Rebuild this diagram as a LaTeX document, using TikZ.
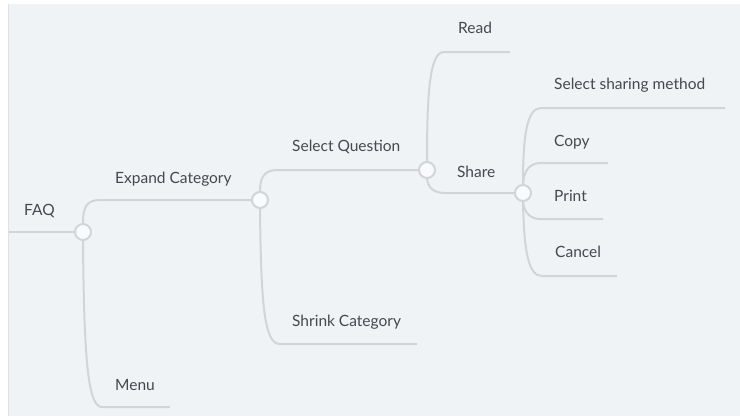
\documentclass[tikz,border=0pt]{standalone}
\usepackage{fontspec}
\setmainfont{Lato}
\begin{document}
\begin{tikzpicture}[x=1pt,y=-1pt,
  conn/.style={draw=linegray,line width=2pt},
  hub/.style={circle,draw=linegray,line width=2pt,fill=hubfill,minimum size=16pt,inner sep=0pt},
  lbl/.style={anchor=west,text=txtgray,font=\fontsize{15.5}{17}\selectfont,inner sep=0pt}]
\definecolor{linegray}{HTML}{D2D5D8}
\definecolor{hubfill}{HTML}{F8FAFB}
\definecolor{txtgray}{HTML}{46484C}
\definecolor{bggray}{HTML}{EFF3F6}
\useasboundingbox (0,0) rectangle (740,416);
\fill[white] (0,0) rectangle (740,416);
\fill[bggray] (8,4) rectangle (740,416);
\draw[linegray!70,line width=0.8pt] (8,4) -- (8,416);
% hubs
\node[hub] (c1) at (83,232) {};
\node[hub] (c2) at (260,200) {};
\node[hub] (c3) at (427,170) {};
\node[hub] (c4) at (523,193) {};
% coordinates
\coordinate (root) at (9,232);
\coordinate (e1) at (100,200);
\coordinate (m1) at (102,407);
\coordinate (m2) at (170,407);
\coordinate (q1) at (277,170);
\coordinate (s1) at (280,344);
\coordinate (s2) at (417,344);
\coordinate (r1) at (444,52);
\coordinate (r2) at (510,52);
\coordinate (h1) at (445,193);
\coordinate (a1) at (541,108);
\coordinate (a2) at (725,108);
\coordinate (p1) at (541,163);
\coordinate (p2) at (608,163);
\coordinate (t1) at (540,219);
\coordinate (t2) at (603,219);
\coordinate (k1) at (542,276);
\coordinate (k2) at (617,276);
% labels
\node[lbl] (faq) at (24,211) {FAQ};
\node[lbl] (expand) at (115,179) {Expand Category};
\node[lbl] (menu) at (115,385) {Menu};
\node[lbl] (select) at (292,147) {Select Question};
\node[lbl] (shrink) at (292,322) {Shrink Category};
\node[lbl] (read) at (458,28) {Read};
\node[lbl] (share) at (457,172) {Share};
\node[lbl] (method) at (554,85) {Select sharing method};
\node[lbl] (copy) at (554,142) {Copy};
\node[lbl] (print) at (554,196) {Print};
\node[lbl] (cancel) at (555,252) {Cancel};
% connectors
\path[conn] (root) -- (c1.west);
\path[conn] (c1.north) .. controls (83,208) and (86,200) .. (e1) -- (c2.west);
\path[conn] (c1.south) .. controls (84,360) and (88,407) .. (m1) -- (m2);
\path[conn] (c2.north) .. controls (260,178) and (264,170) .. (q1) -- (c3.west);
\path[conn] (c2.south) .. controls (261,310) and (265,344) .. (s1) -- (s2);
\path[conn] (c3.north) .. controls (427,90) and (430,52) .. (r1) -- (r2);
\path[conn] (c3.south) .. controls (428,187) and (433,193) .. (h1) -- (c4.west);
\path[conn] (c4.north) .. controls (523,135) and (527,108) .. (a1) -- (a2);
\path[conn] (c4.north) .. controls (524,170) and (530,163) .. (p1) -- (p2);
\path[conn] (c4.south) .. controls (524,212) and (530,219) .. (t1) -- (t2);
\path[conn] (c4.south) .. controls (524,250) and (528,276) .. (k1) -- (k2);
\end{tikzpicture}
\end{document}
